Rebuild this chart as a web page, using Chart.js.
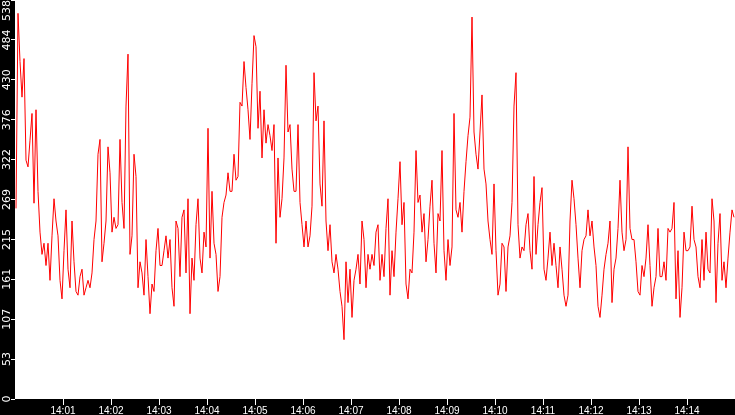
<!DOCTYPE html>
<html lang="en">
<head>
<meta charset="UTF-8">
<title>load 14:00 - 14:15</title>
<style>
    html, body { margin: 0; padding: 0; background: #000; }
    #wrap { width: 735px; height: 415px; }
</style>
</head>
<body>
<div id="wrap"><canvas id="chart" width="735" height="415"></canvas></div>
<script src="https://cdn.jsdelivr.net/npm/chart.js@4.4.1/dist/chart.umd.min.js"></script>
<script>
// one reading every 2.5 s, first one at 14:00:01
const startSec = 1.25;
const stepSec = 2.5;

// 14:00:00 - 14:02:30
const seg1 = [257,520,455,407,459,322,313,349,385,264,
              390,280,225,195,210,180,210,160,220,270,
              240,220,160,135,200,255,175,150,240,185,
              145,140,165,175,140,150,160,150,170,215,
              240,330,350,185,210,240,340,305,225,245,
              230,235,350,265,230,395,465,195,220,330];
// 14:02:30 - 14:05:00
const seg2 = [300,150,185,170,140,215,165,115,155,145,
              200,230,180,180,200,220,190,215,150,125,
              240,230,165,245,255,170,270,115,190,160,
              235,270,190,170,225,205,365,190,280,210,
              195,145,165,245,265,275,305,280,280,330,
              295,300,400,395,455,420,390,350,425,490];
// 14:05:00 - 14:07:30
const seg3 = [475,365,415,325,390,345,370,355,335,370,
              210,325,245,270,325,450,360,370,310,280,
              280,370,265,235,205,240,205,220,260,440,
              375,395,290,260,375,240,200,235,185,170,
              195,175,145,125,80,185,130,175,110,160,
              175,195,155,240,215,150,195,175,195,180];
// 14:07:30 - 14:10:00
const seg4 = [225,235,160,195,165,230,270,140,200,165,
              225,270,320,235,265,155,135,175,170,225,
              335,265,275,225,250,185,215,260,295,210,
              170,250,240,335,200,160,215,180,205,385,
              255,245,265,225,280,320,355,380,515,360,
              330,310,360,410,310,290,240,215,195,290];
// 14:10:00 - 14:12:30
const seg5 = [200,140,155,210,205,145,205,220,265,395,
              440,235,190,205,200,235,250,200,175,300,
              195,235,265,285,175,160,190,225,180,210,
              180,150,205,175,140,125,140,240,295,270,
              235,190,150,200,215,220,255,220,240,205,
              180,125,110,140,175,195,210,240,130,175];
// 14:12:30 - 14:15:00
const seg6 = [190,230,295,225,200,215,340,230,215,215,
              185,145,140,180,165,190,235,180,125,150,
              165,230,165,165,185,160,230,225,230,265,
              135,200,110,150,225,200,200,205,260,215,
              205,165,150,215,160,225,175,170,270,240,
              130,210,250,160,185,150,190,225,255,245];

const timeLabels = ['14:01','14:02','14:03','14:04','14:05','14:06','14:07',
                    '14:08','14:09','14:10','14:11','14:12','14:13','14:14'];
const yTickValues = [0, 53.8, 107.6, 161.4, 215.2, 269, 322.8, 376.6, 430.4, 484.2, 538];
const yTickLabels = ['0','53','107','161','215','269','322','376','430','484','538'];

const values = seg1.concat(seg2, seg3, seg4, seg5, seg6);
const points = values.map((v, i) => ({ x: startSec + i * stepSec, y: v }));

// black frame, white plot area
const panelBg = {
    id: 'panelBg',
    beforeDraw(chart) {
        const { ctx, chartArea: a } = chart;
        ctx.save();
        ctx.fillStyle = '#000';
        ctx.fillRect(0, 0, chart.width, chart.height);
        ctx.fillStyle = '#fff';
        ctx.fillRect(a.left, a.top, a.right - a.left, a.bottom - a.top);
        ctx.restore();
    }
};

// y labels are written sideways
const sideLabels = {
    id: 'sideLabels',
    afterDraw(chart) {
        const ys = chart.scales.y, ctx = chart.ctx;
        ctx.save();
        ctx.font = '11px "DejaVu Sans"';
        ctx.fillStyle = '#fff';
        ctx.textAlign = 'center';
        ctx.textBaseline = 'alphabetic';
        ys.ticks.forEach((t, i) => {
            const label = yTickLabels[i];
            const half = ctx.measureText(label).width / 2;
            let py = ys.getPixelForValue(t.value);
            py = Math.max(half, Math.min(chart.height - half, py));
            ctx.save();
            ctx.translate(10, py);
            ctx.rotate(-Math.PI / 2);
            ctx.fillText(label, 0, 0);
            ctx.restore();
        });
        ctx.restore();
    }
};

let ctx = document.getElementById('chart').getContext('2d');
let chart = new Chart(ctx, {
    type: 'line',
    data: {
        datasets: [{
            label: 'load',
            data: points,
            borderColor: 'rgb(255, 0, 0)',
            borderWidth: 1,
            pointRadius: 0,
            tension: 0,
            fill: false
        }]
    },
    options: {
        responsive: false,
        animation: false,
        devicePixelRatio: 1,
        layout: { padding: 0 },
        plugins: { legend: { display: false }, tooltip: { enabled: false } },
        scales: {
            x: {
                type: 'linear',
                min: 0,
                max: 900,
                afterBuildTicks: s => { s.ticks = timeLabels.map((l, i) => ({ value: (i + 1) * 60 })); },
                afterFit: s => { s.height = 16; },
                border: { display: false },
                grid: { drawOnChartArea: false, color: '#fff', tickLength: 6 },
                ticks: {
                    color: '#fff',
                    padding: 0,
                    maxRotation: 0,
                    autoSkip: false,
                    font: { family: 'Liberation Sans', size: 10 },
                    callback: v => timeLabels[Math.round(v / 60) - 1]
                }
            },
            y: {
                min: 0,
                max: 538,
                afterBuildTicks: s => { s.ticks = yTickValues.map(v => ({ value: v })); },
                afterFit: s => { s.width = 15; },
                border: { display: false },
                grid: { drawOnChartArea: false, color: '#fff', tickLength: 4 },
                ticks: { display: false }
            }
        }
    },
    plugins: [panelBg, sideLabels]
});
</script>
</body>
</html>
